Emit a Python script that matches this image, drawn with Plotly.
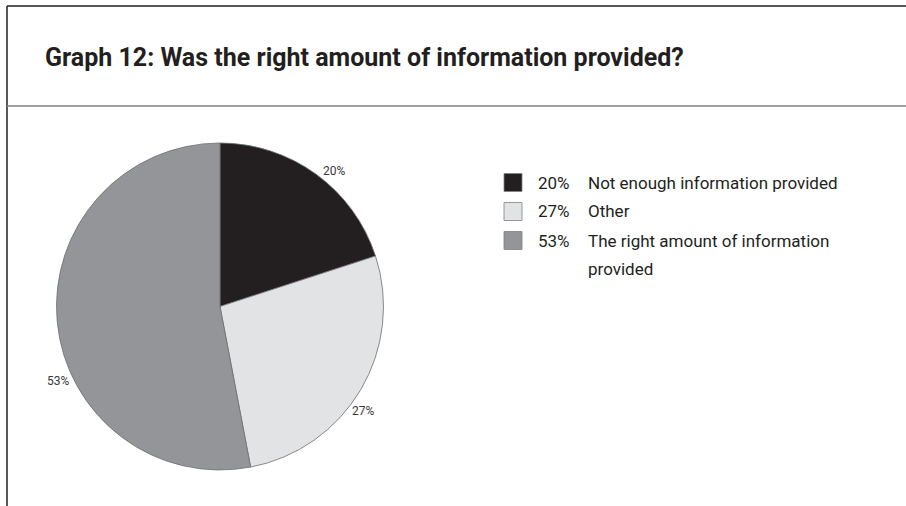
import plotly.graph_objects as go

# data
labels = ["Not enough information provided", "Other",
          "The right amount of information provided"]
legend_lines = [["Not enough information provided"], ["Other"],
                ["The right amount of information", "provided"]]
values = [20, 27, 53]
colors = ["#231f20", "#e2e3e4", "#939598"]
title = "Graph 12: Was the right amount of information provided?"

W, H = 906, 506
FONT = "Roboto, DejaVu Sans Condensed, sans-serif"


def px(x):
    return x / W


def py(y):
    return 1 - y / H


fig = go.Figure()

# pie centred at (220, 306.5) with radius ~163.5 px
fig.add_trace(go.Pie(
    labels=labels,
    values=values,
    sort=False,
    direction="clockwise",
    rotation=0,
    textinfo="none",
    hoverinfo="label+percent",
    marker=dict(colors=colors, line=dict(color="#6d6e71", width=0.8)),
    domain=dict(x=[px(56), px(384)], y=[py(470), py(143)]),
    showlegend=False,
))

annotations = []
shapes = []

# slice labels outside the pie
label_pos = [(334, 162), (363, 420), (45, 390)]
for v, (lx, ly) in zip(values, label_pos):
    annotations.append(dict(
        x=px(lx), y=py(ly), xref="paper", yref="paper",
        text=f"{v}%", showarrow=False,
        font=dict(family=FONT, size=12, color="#3a3839"),
    ))

# legend built by hand: square, percent, label lines
row0, step = 182.5, 29
for i, (v, lines, c) in enumerate(zip(values, legend_lines, colors)):
    yc = row0 + i * step
    shapes.append(dict(
        type="rect", xref="paper", yref="paper",
        x0=px(504), x1=px(522), y0=py(yc - 9), y1=py(yc + 9),
        fillcolor=c, line=dict(color="#808285", width=0.8),
    ))
    annotations.append(dict(
        x=px(536), y=py(yc), xref="paper", yref="paper",
        xanchor="left", yanchor="middle",
        text=f"{v}%", showarrow=False,
        font=dict(family=FONT, size=17, color="#231f20"),
    ))
    for k, line in enumerate(lines):
        annotations.append(dict(
            x=px(586), y=py(yc + k * 28), xref="paper", yref="paper",
            xanchor="left", yanchor="middle",
            text=line, showarrow=False,
            font=dict(family=FONT, size=17, color="#231f20"),
        ))

# title
annotations.append(dict(
    x=px(43), y=py(57), xref="paper", yref="paper",
    xanchor="left", yanchor="middle",
    text=f"<b>{title}</b>", showarrow=False,
    font=dict(family=FONT, size=25, color="#231f20"),
))

# frame lines
shapes += [
    dict(type="line", xref="paper", yref="paper", x0=px(7), x1=1, y0=py(6), y1=py(6),
         line=dict(color="#231f20", width=1.5)),
    dict(type="line", xref="paper", yref="paper", x0=px(7), x1=px(7), y0=py(6), y1=0,
         line=dict(color="#231f20", width=1.5)),
    dict(type="line", xref="paper", yref="paper", x0=px(7), x1=1, y0=py(106), y1=py(106),
         line=dict(color="#808285", width=1.5)),
]

fig.update_layout(
    width=W, height=H,
    margin=dict(l=0, r=0, t=0, b=0),
    paper_bgcolor="white",
    plot_bgcolor="white",
    annotations=annotations,
    shapes=shapes,
)

# drop the browser's default body margin so the figure sits at the page origin
fig.write_html("out.html", config={"displayModeBar": False},
               post_script="document.body.style.margin='0';")
